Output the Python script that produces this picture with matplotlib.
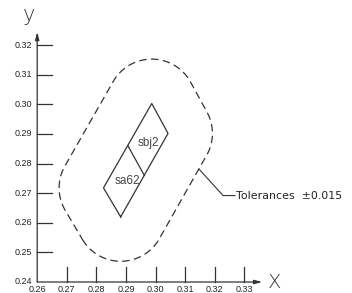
import numpy as np
import matplotlib.pyplot as plt

# parallelogram (data units), counter-clockwise
corner_x = [0.2882, 0.3042, 0.2987, 0.2824]
corner_y = [0.2620, 0.2902, 0.3003, 0.2718]
divider_x = [0.2906, 0.2962]
divider_y = [0.2861, 0.2760]
tolerance = 0.015

x_ticks = [0.27, 0.28, 0.29, 0.30, 0.31, 0.32, 0.33]
y_ticks = [0.25, 0.26, 0.27, 0.28, 0.29, 0.30, 0.31, 0.32]
origin = (0.26, 0.24)

zones = [('sbj2', 0.2976, 0.2871), ('sa62', 0.2905, 0.2741)]
leader_x = [0.3147, 0.3228, 0.3268]
leader_y = [0.2781, 0.2692, 0.2692]
note = 'Tolerances  \u00b10.015'


def offset_outline(px, py, r, n=40):
    # Minkowski sum of a convex polygon with a disk of radius r
    pts = np.column_stack([px, py])
    k = len(pts)
    out = []
    for i in range(k):
        prev, cur, nxt = pts[i - 1], pts[i], pts[(i + 1) % k]
        e1 = cur - prev
        e2 = nxt - cur
        a1 = np.arctan2(e1[1], e1[0]) - np.pi / 2
        a2 = np.arctan2(e2[1], e2[0]) - np.pi / 2
        if a2 < a1:
            a2 += 2 * np.pi
        t = np.linspace(a1, a2, n)
        out.append(np.column_stack([cur[0] + r * np.cos(t), cur[1] + r * np.sin(t)]))
    out = np.vstack(out + [out[0][:1]])
    return out[:, 0], out[:, 1]


px_per = 2960.0  # pixels per data unit
fig = plt.figure(figsize=(3.52, 2.93), dpi=100)
ax = fig.add_axes([0, 0, 1, 1])
ax.set_xlim(origin[0] - 37.2 / px_per, origin[0] + 314.8 / px_per)
ax.set_ylim(origin[1] - 11 / px_per, origin[1] + 282 / px_per)
ax.axis('off')

ink = '#333333'
tick_font = dict(family='Liberation Sans', fontsize=6.5, color='#222222')

# axes with arrows
ax.annotate('', xy=(origin[0], origin[1] + 250 / px_per), xytext=origin,
            arrowprops=dict(arrowstyle='-|>,head_length=0.45,head_width=0.12',
                            color=ink, lw=0.9, shrinkA=0, shrinkB=0))
ax.annotate('', xy=(origin[0] + 225 / px_per, origin[1]), xytext=origin,
            arrowprops=dict(arrowstyle='-|>,head_length=0.45,head_width=0.12',
                            color=ink, lw=0.9, shrinkA=0, shrinkB=0))

tl = 15 / px_per
for v in y_ticks:
    ax.plot([origin[0], origin[0] + tl], [v, v], color=ink, lw=0.9)
    ax.text(origin[0] - 5 / px_per, v, f'{v:.2f}', ha='right', va='center', **tick_font)
for v in x_ticks:
    ax.plot([v, v], [origin[1], origin[1] + tl], color=ink, lw=0.9)
    ax.text(v, origin[1] - 3 / px_per, f'{v:.2f}', ha='center', va='top', **tick_font)
ax.text(origin[0] - 5 / px_per, origin[1] + 1 / px_per, f'{origin[1]:.2f}',
        ha='right', va='center', **tick_font)
ax.text(origin[0], origin[1] - 3 / px_per, f'{origin[0]:.2f}',
        ha='center', va='top', **tick_font)

ax.text(origin[0] - 8 / px_per, origin[1] + 267 / px_per, 'y', family='DejaVu Sans',
        fontweight='ultralight', fontsize=15, color=ink, ha='center', va='center')
ax.text(origin[0] + 237 / px_per, origin[1] - 1 / px_per, 'X', family='DejaVu Sans',
        fontweight='ultralight', fontsize=14, color=ink, ha='center', va='center')

# parallelogram and divider
ax.plot(corner_x + corner_x[:1], corner_y + corner_y[:1], color=ink, lw=0.9)
ax.plot(divider_x, divider_y, color=ink, lw=0.9)
for name, zx, zy in zones:
    ax.text(zx, zy, name, family='Liberation Sans', fontsize=8.5, color='#444444',
            ha='center', va='center')

# tolerance zone
ox, oy = offset_outline(corner_x, corner_y, tolerance)
line, = ax.plot(ox, oy, color=ink, lw=0.9)
line.set_dashes((6, 3.5))

ax.plot(leader_x, leader_y, color=ink, lw=0.8)
ax.text(leader_x[-1] + 1 / px_per, leader_y[-1], note, family='DejaVu Sans',
        fontsize=7.9, color='#222222', ha='left', va='center')

fig.savefig('out.png', dpi=100)
